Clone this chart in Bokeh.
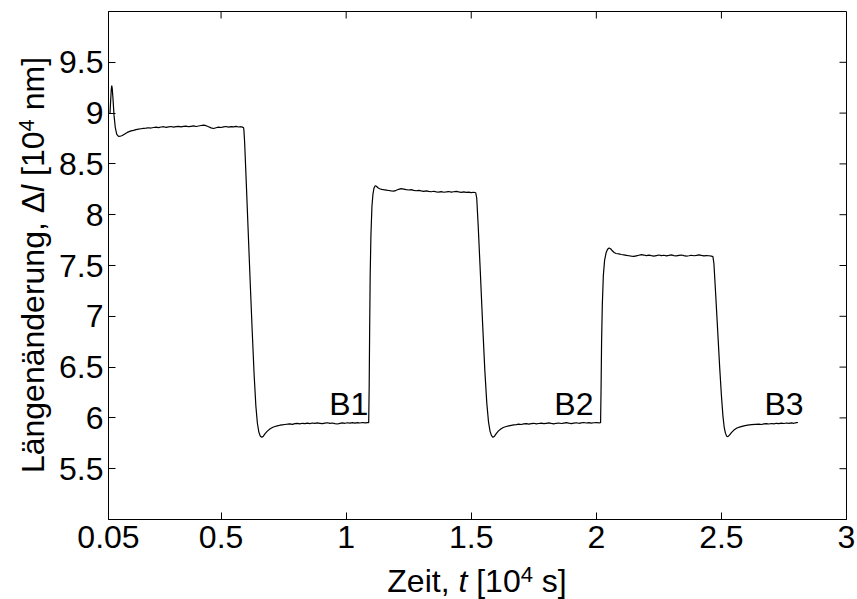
from bokeh.embed import file_html
from bokeh.layouts import column, row
from bokeh.models import Div, FixedTicker, Label, Range1d
from bokeh.plotting import figure
from bokeh.resources import INLINE

# Time in 10^4 s, length change in 10^4 nm, one list pair per phase of the run.
t_settle = [0.056, 0.059, 0.061, 0.063, 0.065, 0.068, 0.072, 0.077, 0.083, 0.090,
            0.097, 0.105, 0.115, 0.125, 0.135,
            0.14, 0.15, 0.16, 0.17, 0.18, 0.19, 0.20, 0.21, 0.22, 0.23, 0.24, 0.25,
            0.26, 0.27, 0.28, 0.29, 0.30, 0.31, 0.32, 0.33, 0.34, 0.35, 0.36, 0.37,
            0.38, 0.39, 0.40, 0.41, 0.42, 0.43, 0.44, 0.45, 0.46, 0.47, 0.48, 0.49,
            0.50, 0.51, 0.52, 0.53, 0.54, 0.55, 0.56, 0.57, 0.58, 0.585, 0.590]
dl_settle = [9.00, 9.14, 9.23, 9.27, 9.24, 9.14, 8.98, 8.86, 8.79, 8.77,
             8.772, 8.78, 8.795, 8.81, 8.82,
             8.825, 8.83, 8.838, 8.842, 8.846, 8.85, 8.852, 8.856, 8.853, 8.858, 8.862, 8.857,
             8.863, 8.866, 8.86, 8.864, 8.868, 8.862, 8.866, 8.87, 8.865, 8.869, 8.872, 8.866,
             8.87, 8.874, 8.868, 8.873, 8.878, 8.882, 8.876, 8.866, 8.855, 8.848, 8.856, 8.862,
             8.858, 8.864, 8.868, 8.862, 8.866, 8.864, 8.869, 8.863, 8.866, 8.862, 8.855]

t_b1 = [0.591, 0.594, 0.600, 0.608, 0.616, 0.624, 0.632, 0.639, 0.645, 0.651,
        0.657, 0.663, 0.669, 0.676, 0.685, 0.695, 0.705, 0.715, 0.725, 0.735,
        0.745, 0.755, 0.765, 0.775, 0.785, 0.795, 0.805, 0.815, 0.825, 0.835,
        0.845, 0.855, 0.865, 0.875, 0.885, 0.895, 0.905, 0.915, 0.925, 0.935,
        0.945, 0.955, 0.965, 0.975, 0.985, 0.995, 1.005, 1.015, 1.025, 1.035,
        1.045, 1.055, 1.065, 1.075, 1.085, 1.090]
dl_b1 = [8.84, 8.72, 8.36, 7.86, 7.36, 6.88, 6.43, 6.12, 5.95, 5.86,
         5.82, 5.81, 5.82, 5.845, 5.87, 5.89, 5.905, 5.915, 5.922, 5.928,
         5.932, 5.935, 5.938, 5.942, 5.937, 5.944, 5.946, 5.941, 5.947, 5.943,
         5.949, 5.944, 5.95, 5.946, 5.951, 5.947, 5.943, 5.948, 5.952, 5.946,
         5.95, 5.944, 5.94, 5.946, 5.951, 5.947, 5.952, 5.948, 5.953, 5.949,
         5.954, 5.95, 5.955, 5.951, 5.954, 5.952]

t_step2 = [1.092, 1.094, 1.096, 1.099, 1.103, 1.107, 1.111, 1.116, 1.121, 1.127,
           1.134, 1.142, 1.15, 1.16, 1.17, 1.18, 1.19, 1.20, 1.21, 1.22,
           1.23, 1.24, 1.25, 1.26, 1.27, 1.28, 1.29, 1.30, 1.31, 1.32,
           1.33, 1.34, 1.35, 1.36, 1.37, 1.38, 1.39, 1.40, 1.41, 1.42,
           1.43, 1.44, 1.45, 1.46, 1.47, 1.48, 1.49, 1.50, 1.51, 1.518]
dl_step2 = [6.3, 6.9, 7.4, 7.8, 8.08, 8.2, 8.26, 8.285, 8.28, 8.265,
            8.255, 8.25, 8.246, 8.242, 8.238, 8.234, 8.232, 8.24, 8.25, 8.256,
            8.252, 8.246, 8.243, 8.247, 8.24, 8.236, 8.24, 8.234, 8.23, 8.235,
            8.229, 8.226, 8.231, 8.225, 8.222, 8.227, 8.221, 8.224, 8.228, 8.222,
            8.226, 8.23, 8.224, 8.22, 8.224, 8.219, 8.222, 8.218, 8.221, 8.216]

t_b2 = [1.522, 1.528, 1.536, 1.545, 1.554, 1.562, 1.569, 1.575, 1.581, 1.587,
        1.593, 1.600, 1.608, 1.618, 1.628, 1.64, 1.65, 1.66, 1.67, 1.68,
        1.69, 1.70, 1.71, 1.72, 1.73, 1.74, 1.75, 1.76, 1.77, 1.78,
        1.79, 1.80, 1.81, 1.82, 1.83, 1.84, 1.85, 1.86, 1.87, 1.88,
        1.89, 1.90, 1.91, 1.92, 1.93, 1.94, 1.95, 1.96, 1.97, 1.98,
        1.99, 2.00, 2.01, 2.017]
dl_b2 = [8.16, 7.88, 7.45, 6.95, 6.48, 6.15, 5.96, 5.87, 5.825, 5.81,
         5.82, 5.845, 5.87, 5.89, 5.905, 5.915, 5.922, 5.927, 5.931, 5.934,
         5.938, 5.935, 5.941, 5.944, 5.939, 5.943, 5.947, 5.941, 5.945, 5.949,
         5.943, 5.947, 5.951, 5.946, 5.942, 5.947, 5.95, 5.945, 5.949, 5.953,
         5.948, 5.944, 5.949, 5.952, 5.947, 5.951, 5.955, 5.95, 5.953, 5.948,
         5.952, 5.955, 5.951, 5.953]

t_step3 = [2.019, 2.021, 2.024, 2.028, 2.033, 2.039, 2.045, 2.051, 2.057, 2.064,
           2.071, 2.079, 2.09, 2.10, 2.11, 2.12, 2.13, 2.14, 2.15, 2.16,
           2.17, 2.18, 2.19, 2.20, 2.21, 2.22, 2.23, 2.24, 2.25, 2.26,
           2.27, 2.28, 2.29, 2.30, 2.31, 2.32, 2.33, 2.34, 2.35, 2.36,
           2.37, 2.38, 2.39, 2.40, 2.41, 2.42, 2.43, 2.44, 2.45, 2.46, 2.466]
dl_step3 = [6.3, 6.75, 7.12, 7.4, 7.55, 7.625, 7.66, 7.672, 7.665, 7.645,
            7.628, 7.618, 7.614, 7.608, 7.604, 7.6, 7.596, 7.592, 7.589, 7.595,
            7.601, 7.607, 7.603, 7.598, 7.602, 7.597, 7.593, 7.598, 7.603, 7.597,
            7.601, 7.595, 7.599, 7.604, 7.598, 7.594, 7.599, 7.603, 7.597, 7.592,
            7.596, 7.601, 7.596, 7.6, 7.605, 7.599, 7.594, 7.598, 7.596, 7.592, 7.588]

t_b3 = [2.470, 2.477, 2.485, 2.493, 2.500, 2.506, 2.511, 2.516, 2.521, 2.526,
        2.532, 2.540, 2.550, 2.562, 2.575, 2.59, 2.605, 2.62, 2.635, 2.65,
        2.66, 2.67, 2.68, 2.69, 2.70, 2.71, 2.72, 2.73, 2.74, 2.75,
        2.76, 2.77, 2.78, 2.79, 2.80, 2.806]
dl_b3 = [7.52, 7.22, 6.86, 6.5, 6.22, 6.02, 5.91, 5.85, 5.82, 5.815,
         5.83, 5.855, 5.88, 5.9, 5.912, 5.922, 5.928, 5.933, 5.936, 5.939,
         5.935, 5.941, 5.944, 5.94, 5.945, 5.942, 5.947, 5.943, 5.948, 5.945,
         5.95, 5.946, 5.951, 5.947, 5.953, 5.955]

x_ticks = [0.05, 0.5, 1, 1.5, 2, 2.5, 3]
x_tick_labels = ["0.05", "0.5", "1", "1.5", "2", "2.5", "3"]
y_ticks = [5.5, 6, 6.5, 7, 7.5, 8, 8.5, 9, 9.5]
y_tick_labels = ["5.5", "6", "6.5", "7", "7.5", "8", "8.5", "9", "9.5"]

stage_names = ["B1", "B2", "B3"]

t = t_settle + t_b1 + t_step2 + t_b2 + t_step3 + t_b3
dl = dl_settle + dl_b1 + dl_step2 + dl_b2 + dl_step3 + dl_b3

# Page layout (pixels): y-title strip | main plot, x-title strip underneath
W, H = 857, 599
YT_W = 54            # strip holding the rotated y title
XT_H = 38            # strip holding the x title
MAIN_W, MAIN_H = W - YT_W, H - XT_H
B_LEFT, B_RIGHT, B_TOP, B_BOTTOM = 54, 11, 11, MAIN_H - 519
FW, FH = MAIN_W - B_LEFT - B_RIGHT, MAIN_H - B_TOP - B_BOTTOM
FRAME_LEFT = YT_W + B_LEFT          # frame edges in page pixels
FRAME_BOTTOM = B_TOP + FH
X0, X1 = 0.05, 3.0
Y0, Y1 = 5.0, 10.0
FONT = "Liberation Sans"
SIZE = 32
TICK = 7
MID = 0.3465         # em distance from baseline up to the text box middle

p = figure(width=MAIN_W, height=MAIN_H, x_range=Range1d(X0, X1), y_range=Range1d(Y0, Y1),
           output_backend="svg", toolbar_location=None,
           min_border_left=B_LEFT, min_border_right=B_RIGHT,
           min_border_top=B_TOP, min_border_bottom=B_BOTTOM)
p.background_fill_color = "white"
p.border_fill_color = "white"
p.outline_line_color = "black"
p.outline_line_width = 1
p.xgrid.visible = False
p.ygrid.visible = False


def style_axis(ax, ticks, labels, standoff):
    ax.ticker = FixedTicker(ticks=ticks)
    ax.major_label_overrides = dict(zip(ticks, labels))
    ax.minor_tick_line_color = None
    ax.major_tick_in = TICK
    ax.major_tick_out = 0
    ax.axis_line_color = "black"
    ax.major_tick_line_color = "black"
    ax.major_label_text_font = FONT
    ax.major_label_text_font_size = f"{SIZE}px"
    ax.major_label_text_color = "black"
    ax.major_label_standoff = standoff


style_axis(p.xaxis[0], x_ticks, x_tick_labels, 6)
style_axis(p.yaxis[0], y_ticks, y_tick_labels, 5)

# Mirrored inward ticks along the top and right edges of the box
dy_tick = TICK * (Y1 - Y0) / FH
dx_tick = TICK * (X1 - X0) / FW
p.segment(x0=x_ticks, y0=[Y1] * len(x_ticks), x1=x_ticks, y1=[Y1 - dy_tick] * len(x_ticks),
          line_color="black", line_width=1)
p.segment(x0=[X1] * len(y_ticks), y0=y_ticks, x1=[X1 - dx_tick] * len(y_ticks), y1=y_ticks,
          line_color="black", line_width=1)

p.line(t, dl, line_color="black", line_width=1.2)


def py_to_y(py):
    return Y0 + (FRAME_BOTTOM - py) * (Y1 - Y0) / FH


# Stage markers next to each low plateau (baseline just above the plateau)
for name, left in zip(stage_names, [0.932, 1.832, 2.672]):
    p.add_layout(Label(x=left, y=py_to_y(415 - MID * SIZE), text=name, text_font=FONT,
                       text_font_size=f"{SIZE}px", text_color="black",
                       text_align="left", text_baseline="middle"))

# Axis titles with italic symbols and raised exponents, set as HTML
SUP = '<sup style="font-size:22px;line-height:0;vertical-align:10px">4</sup>'
BASE_STYLE = (f"position:absolute;white-space:nowrap;font-family:'{FONT}';"
              f"font-size:{SIZE}px;line-height:{SIZE}px;color:black;")

y_title = f"Längenänderung, Δ<i>l</i> [10{SUP} nm]"
x_title = f"Zeit, <i>t</i> [10{SUP} s]"

y_center_x = 44 - MID * SIZE                 # baseline sits right of the box middle
y_center_y = B_TOP + FH / 2
ylab = Div(width=YT_W, height=MAIN_H, margin=0,
           text=(f'<div style="position:relative;width:{YT_W}px;height:{MAIN_H}px;overflow:hidden">'
                 f'<div style="{BASE_STYLE}left:{y_center_x:.1f}px;top:{y_center_y:.1f}px;'
                 f'transform:translate(-50%,-50%) rotate(-90deg)">{y_title}</div></div>'))

x_base = 592 - MAIN_H
x_top = x_base - (SIZE / 2 + MID * SIZE)
xlab = Div(width=W, height=XT_H, margin=0,
           text=(f'<div style="position:relative;width:{W}px;height:{XT_H}px;overflow:hidden">'
                 f'<div style="{BASE_STYLE}left:{FRAME_LEFT + FW / 2:.1f}px;top:{x_top:.1f}px;'
                 f'transform:translateX(-50%)">{x_title}</div></div>'))

layout = column(row(ylab, p, spacing=0), xlab, spacing=0)
open("out.html", "w").write(file_html(layout, INLINE))
